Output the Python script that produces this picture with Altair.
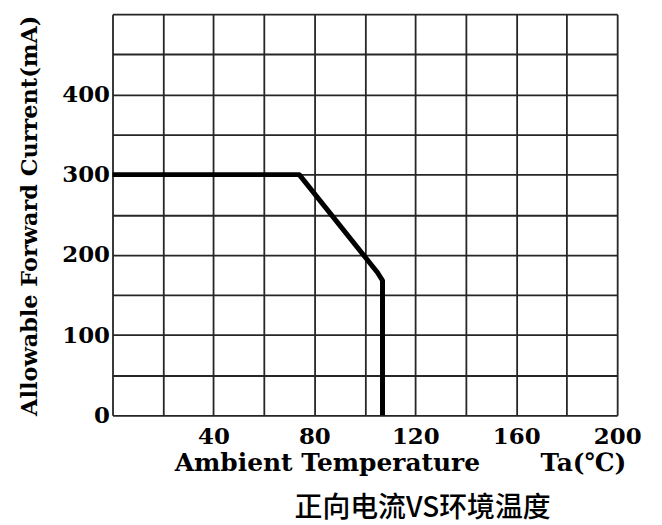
import altair as alt
import pandas as pd

# Derating curve: ambient temperature (°C) vs allowable forward current (mA)
temp_c = [0, 74, 105, 107, 107]
current_ma = [300, 300, 178, 168, 0]

x_ticks = [0, 20, 40, 60, 80, 100, 120, 140, 160, 180, 200]
y_ticks = [0, 50, 100, 150, 200, 250, 300, 350, 400, 450, 500]

df = pd.DataFrame({"temp": temp_c, "current": current_ma})

GRID = "#262626"
SERIF = "DejaVu Serif"

nb = "\u00a0"
x_title = "Ambient Temperature" + nb * 7 + "Ta(℃)"

line = alt.Chart(df).mark_line(color="black", strokeWidth=5, strokeJoin="round").encode(
    x=alt.X(
        "temp:Q",
        scale=alt.Scale(domain=[0, 200], nice=False),
        axis=alt.Axis(
            values=x_ticks,
            grid=True,
            gridColor=GRID,
            gridWidth=1.8,
            gridOpacity=1,
            domain=False,
            ticks=False,
            labelExpr="datum.value % 40 == 0 && datum.value > 0 ? datum.label : ''",
            labelFont=SERIF,
            labelFontWeight="bold",
            labelFontSize=23,
            labelColor="black",
            labelPadding=10,
            labelFlush=False,
            labelOverlap=False,
            title=x_title,
            titleFont=SERIF,
            titleFontWeight="bold",
            titleFontSize=25,
            titleColor="black",
            titleAlign="left",
            titleBaseline="middle",
            titleX=62,
            titleY=47,
        ),
    ),
    y=alt.Y(
        "current:Q",
        scale=alt.Scale(domain=[0, 500], nice=False),
        axis=alt.Axis(
            values=y_ticks,
            grid=True,
            gridColor=GRID,
            gridWidth=1.8,
            gridOpacity=1,
            domain=False,
            ticks=False,
            labelExpr="datum.value % 100 == 0 && datum.value < 500 ? datum.label : ''",
            labelFont=SERIF,
            labelFontWeight="bold",
            labelFontSize=23,
            labelColor="black",
            labelPadding=3,
            labelFlush=False,
            labelOverlap=False,
            labelBaseline="middle",
            title="Allowable Forward Current(mA)",
            titleFont=SERIF,
            titleFontWeight="bold",
            titleFontSize=22.5,
            titleColor="black",
            titleAngle=270,
            titleAlign="center",
            titleBaseline="middle",
            titleX=-83,
            titleY=202,
        ),
    ),
)

chart = line.properties(
    width=507,
    height=403,
    autosize=alt.AutoSizeParams(type="none"),
    padding={"left": 105, "top": 5, "right": 37, "bottom": 112},
    title=alt.TitleParams(
        text="正向电流VS环境温度",
        orient="bottom",
        anchor="middle",
        font="Noto Sans CJK SC",
        fontSize=28,
        fontWeight=500,
        color="black",
        dx=58,
        offset=20,
    ),
).configure_view(stroke=GRID, strokeWidth=2).configure(background="white")

chart.save("out.html", embed_options={"renderer": "svg", "actions": False})
